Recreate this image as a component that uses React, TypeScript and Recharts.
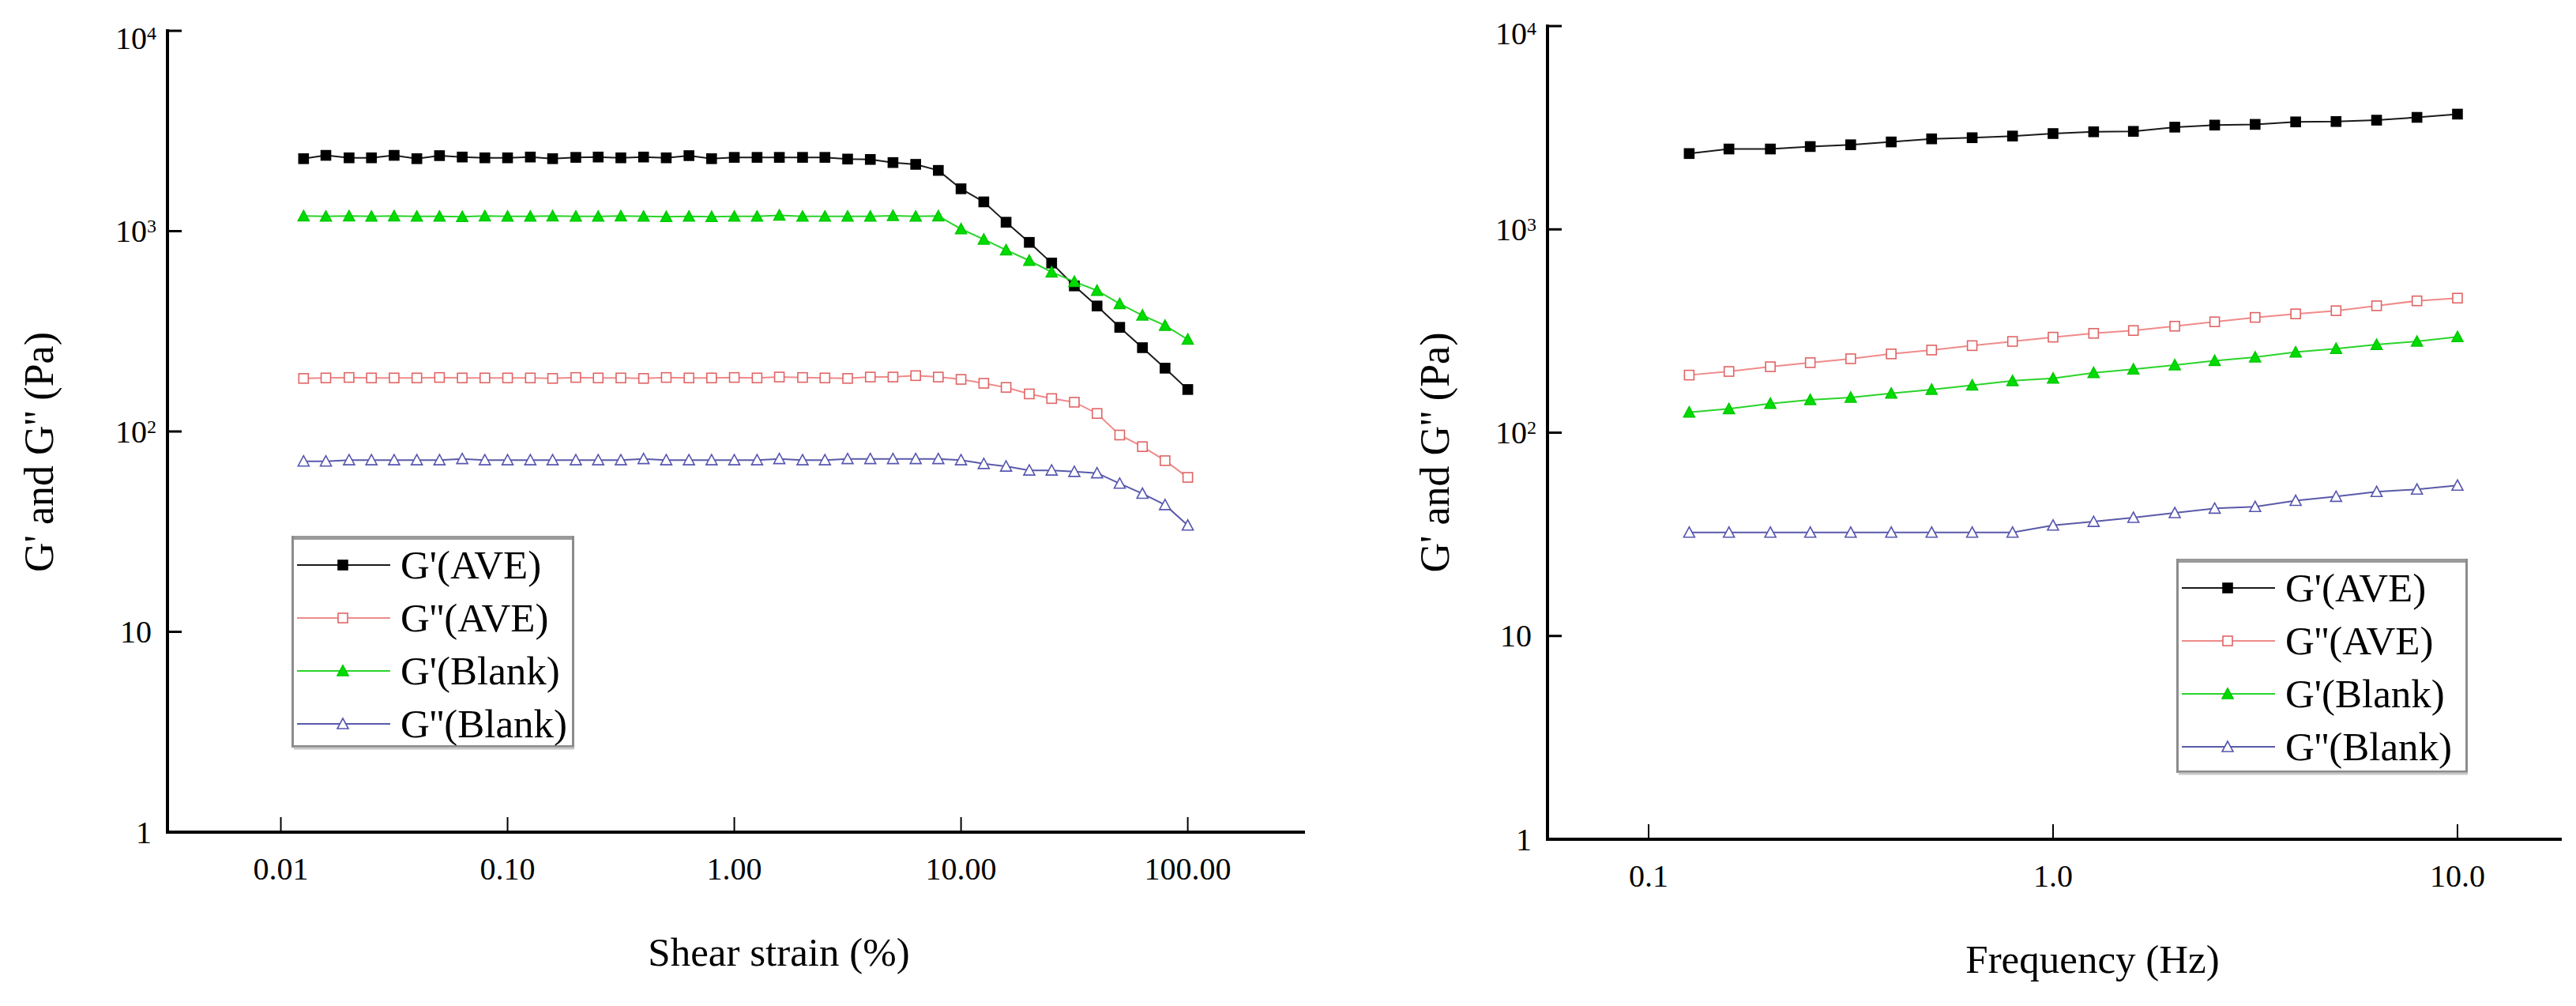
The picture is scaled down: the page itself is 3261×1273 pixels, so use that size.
import React from 'react';
import { LineChart, Line, XAxis, YAxis, Legend } from 'recharts';

// ---------- Data: amplitude sweep (left) ----------
const strain = [
  0.0126, 0.0158, 0.02, 0.0251, 0.0316, 0.0398, 0.0501, 0.0631, 0.0794, 0.1,
  0.126, 0.158, 0.2, 0.251, 0.316, 0.398, 0.501, 0.631, 0.794, 1,
  1.26, 1.58, 2, 2.51, 3.16, 3.98, 5.01, 6.31, 7.94, 10,
  12.6, 15.8, 20, 25.1, 31.6, 39.8, 50.1, 63.1, 79.4, 100,
];
const strainGpAve = [
  2300, 2390, 2323, 2323, 2390, 2300, 2382, 2344, 2323, 2323,
  2344, 2300, 2335, 2344, 2323, 2344, 2323, 2382, 2300, 2335,
  2335, 2335, 2335, 2335, 2290, 2280, 2200, 2155, 2010, 1627,
  1400, 1108, 879, 693, 533, 423, 331, 262, 207, 162,
];
const strainGppAve = [
  184, 185, 186, 185, 185, 185, 186, 185, 185, 185,
  185, 184, 186, 185, 185, 184, 186, 185, 185, 186,
  185, 187, 186, 185, 184, 187, 187, 190, 187, 182,
  174, 166, 154, 146, 140, 123, 96, 84, 71.5, 59,
];
const strainGpBlank = [
  1190, 1185, 1190, 1185, 1190, 1185, 1185, 1180, 1190, 1185,
  1185, 1190, 1185, 1185, 1190, 1185, 1180, 1185, 1180, 1185,
  1185, 1200, 1185, 1185, 1185, 1185, 1195, 1185, 1190, 1025,
  910, 805, 713, 624, 560, 505, 434, 380, 338, 288,
];
const strainGppBlank = [
  71, 71, 72, 72, 72, 72, 72, 73, 72, 72,
  72, 72, 72, 72, 72, 73, 72, 72, 72, 72,
  72, 73, 72, 72, 73, 73, 73, 73, 73, 72,
  69, 67, 64, 64, 63, 62, 55, 49, 43, 34,
];

// ---------- Data: frequency sweep (right) ----------
const freq = [
  0.126, 0.158, 0.2, 0.251, 0.316, 0.398, 0.501, 0.631, 0.794, 1,
  1.26, 1.58, 2, 2.51, 3.16, 3.98, 5.01, 6.31, 7.94, 10,
];
const freqGpAve = [
  2360, 2485, 2485, 2555, 2607, 2692, 2788, 2824, 2878, 2960,
  3020, 3034, 3183, 3258, 3284, 3378, 3392, 3445, 3556, 3689,
];
const freqGppAve = [
  192, 200, 211, 221, 231, 244, 255, 268, 281, 295,
  308, 318, 334, 351, 369, 384, 398, 421, 445, 459,
];
const freqGpBlank = [
  126, 131, 139, 145, 149, 156, 163, 171, 180, 185,
  197, 205, 215, 226, 235, 249, 259, 271, 281, 296,
];
const freqGppBlank = [
  32.3, 32.3, 32.3, 32.3, 32.3, 32.3, 32.3, 32.3, 32.3, 35,
  36.5, 38.2, 40.3, 42.4, 43.2, 46.3, 48.5, 51.2, 52.6, 55,
];

// ---------- Labels / ticks ----------
const seriesNames = ["G'(AVE)", "G''(AVE)", "G'(Blank)", "G''(Blank)"];
const strainTicks = [0.01, 0.1, 1, 10, 100];
const strainTickLabels = ['0.01', '0.10', '1.00', '10.00', '100.00'];
const freqTicks = [0.1, 1, 10];
const freqTickLabels = ['0.1', '1.0', '10.0'];
const modulusTicks = [1, 10, 100, 1000, 10000];
const strainTitle = 'Shear strain (%)';
const freqTitle = 'Frequency (Hz)';
const yTitle = "G' and G'' (Pa)";

const strainData = strain.map((x, i) => ({
  x, a: strainGpAve[i], b: strainGppAve[i], c: strainGpBlank[i], d: strainGppBlank[i],
}));
const freqData = freq.map((x, i) => ({
  x, a: freqGpAve[i], b: freqGppAve[i], c: freqGpBlank[i], d: freqGppBlank[i],
}));

const FONT = '"Liberation Serif", "Times New Roman", Times, serif';

const seriesStyles = [
  { key: 'a', line: '#1a1a1a', kind: 'square', fill: '#000000', stroke: '#000000' },
  { key: 'b', line: '#f08a8a', kind: 'square', fill: '#ffffff', stroke: '#e06464' },
  { key: 'c', line: '#2ad42a', kind: 'triangle', fill: '#00dc00', stroke: '#00c800' },
  { key: 'd', line: '#5a5aaa', kind: 'triangle', fill: '#ffffff', stroke: '#5656b0' },
];

function Marker({ cx, cy, kind, fill, stroke }: any) {
  if (cx == null || cy == null) return null;
  if (kind === 'square') {
    const s = 12;
    return <rect x={cx - s / 2} y={cy - s / 2} width={s} height={s} fill={fill} stroke={stroke} strokeWidth={1.6} />;
  }
  const w = 14;
  const h = 12;
  return (
    <polygon
      points={`${cx},${cy - h / 2 - 1} ${cx - w / 2},${cy + h / 2} ${cx + w / 2},${cy + h / 2}`}
      fill={fill}
      stroke={stroke}
      strokeWidth={1.6}
      strokeLinejoin="miter"
    />
  );
}

function XTick(props: any) {
  const { x, y, payload, ticks, labels } = props;
  const i = ticks.findIndex((t: number) => Math.abs(t - payload.value) / t < 1e-6);
  return (
    <g>
      <line x1={x} x2={x} y1={y} y2={y - 19} stroke="#000" strokeWidth={2} />
      <text x={x} y={y + 46} textAnchor="middle" dominantBaseline="central" fontSize={40} fontFamily={FONT} fill="#000">
        {i >= 0 ? labels[i] : ''}
      </text>
    </g>
  );
}

function YTick(props: any) {
  const { x, y, payload } = props;
  const v = payload.value;
  const exp = Math.round(Math.log10(v));
  // the top label sits slightly below its tick, as in the reference
  const ly = exp === 4 ? y + 9 : y;
  return (
    <g>
      <line x1={x} x2={x + 18} y1={y} y2={y} stroke="#000" strokeWidth={3} />
      {exp <= 1 ? (
        <text x={x - 20} y={ly} textAnchor="end" dominantBaseline="central" fontSize={40} fontFamily={FONT} fill="#000">
          {exp === 0 ? '1' : '10'}
        </text>
      ) : (
        <text x={x - 14} y={ly + 13.5} textAnchor="end" fontSize={40} fontFamily={FONT} fill="#000">
          10
          <tspan fontSize={24} dy={-12}>{String(exp)}</tspan>
        </text>
      )}
    </g>
  );
}

function LegendBox({ w, h }: { w: number; h: number }) {
  return (
    <svg width={w} height={h + 4} style={{ display: 'block', overflow: 'visible' }}>
      <rect x={1.5} y={1.5} width={w - 3} height={h - 3} fill="#ffffff" stroke="#8c8c8c" strokeWidth={3} />
      <line x1={3} x2={w - 3} y1={2.5} y2={2.5} stroke="#9a9a9a" strokeWidth={5} />
      <line x1={3} x2={w} y1={h + 1} y2={h + 1} stroke="#c8c8c8" strokeWidth={3} />
      {seriesStyles.map((s, i) => {
        const cy = 37 + 67 * i;
        return (
          <g key={s.key}>
            <line x1={7} x2={125} y1={cy} y2={cy} stroke={s.line} strokeWidth={2} />
            <Marker cx={65} cy={cy} kind={s.kind} fill={s.fill} stroke={s.stroke} />
            <text x={138} y={cy} dominantBaseline="central" fontSize={51} fontFamily={FONT} fill="#000">
              {seriesNames[i]}
            </text>
          </g>
        );
      })}
    </svg>
  );
}

function Panel(p: any) {
  const height = 1273;
  return (
    <div style={{ position: 'absolute', left: p.left, top: 0, width: p.width, height }}>
      <LineChart
        width={p.width}
        height={height}
        data={p.data}
        margin={{ top: p.plotTop, right: p.width - p.plotRight, bottom: 0, left: 0 }}
      >
        <XAxis
          dataKey="x"
          type="number"
          scale="log"
          domain={p.xDomain}
          allowDataOverflow
          ticks={p.xTicks}
          interval={0}
          tickSize={0}
          tickMargin={0}
          tickLine={false}
          height={height - p.plotBottom}
          axisLine={{ stroke: '#000', strokeWidth: 4, strokeLinecap: 'square' }}
          tick={(tp: any) => <XTick {...tp} ticks={p.xTicks} labels={p.xLabels} />}
          label={(lp: any) => {
            const vb = lp.viewBox || {};
            return (
              <text
                x={(vb.x ?? p.plotLeft) + (vb.width ?? 0) / 2 + p.xTitleDx}
                y={(vb.y ?? p.plotBottom) + 152}
                textAnchor="middle"
                dominantBaseline="central"
                fontSize={51}
                fontFamily={FONT}
                fill="#000"
              >
                {p.xTitle}
              </text>
            );
          }}
        />
        <YAxis
          type="number"
          scale="log"
          domain={[1, 10000]}
          allowDataOverflow
          ticks={modulusTicks}
          interval={0}
          width={p.plotLeft}
          tickSize={0}
          tickMargin={0}
          tickLine={false}
          axisLine={{ stroke: '#000', strokeWidth: 4, strokeLinecap: 'square' }}
          tick={(tp: any) => <YTick {...tp} />}
          label={(lp: any) => {
            const vb = lp.viewBox || {};
            const cx = (vb.x ?? 0) + p.yTitleX;
            const cy = (vb.y ?? p.plotTop) + (vb.height ?? 0) / 2 + p.yTitleDy;
            return (
              <text
                x={cx}
                y={cy}
                transform={`rotate(-90 ${cx} ${cy})`}
                textAnchor="middle"
                dominantBaseline="central"
                fontSize={52}
                fontFamily={FONT}
                fill="#000"
              >
                {yTitle}
              </text>
            );
          }}
        />
        {seriesStyles.map((s, i) => (
          <Line
            key={s.key}
            type="linear"
            dataKey={s.key}
            name={seriesNames[i]}
            stroke={s.line}
            strokeWidth={2}
            isAnimationActive={false}
            activeDot={false}
            dot={(dp: any) => (
              <Marker key={`${s.key}-${dp.index}`} cx={dp.cx} cy={dp.cy} kind={s.kind} fill={s.fill} stroke={s.stroke} />
            )}
          />
        ))}
        <Legend
          layout="vertical"
          align="center"
          verticalAlign="middle"
          wrapperStyle={{ left: p.legend.x, top: p.legend.y, width: p.legend.w, height: p.legend.h, margin: 0, padding: 0 }}
          content={() => <LegendBox w={p.legend.w} h={p.legend.h} />}
        />
      </LineChart>
    </div>
  );
}

export default function App() {
  return (
    <div style={{ position: 'absolute', left: 0, top: 0, width: 3261, height: 1273, background: '#fff', overflow: 'hidden' }}>
      <Panel
        left={0}
        width={1700}
        plotLeft={212}
        plotRight={1650}
        plotTop={39}
        plotBottom={1053}
        xDomain={[Math.pow(10, -2.5), Math.pow(10, 2.51)]}
        xTicks={strainTicks}
        xLabels={strainTickLabels}
        xTitle={strainTitle}
        xTitleDx={55}
        yTitleX={49}
        yTitleDy={26}
        data={strainData}
        legend={{ x: 369, y: 678, w: 358, h: 268 }}
      />
      <Panel
        left={1700}
        width={1561}
        plotLeft={259}
        plotRight={1541}
        plotTop={33}
        plotBottom={1062}
        xDomain={[Math.pow(10, -1.25), Math.pow(10, 1.254)]}
        xTicks={freqTicks}
        xLabels={freqTickLabels}
        xTitle={freqTitle}
        xTitleDx={49}
        yTitleX={116}
        yTitleDy={25}
        data={freqData}
        legend={{ x: 1055, y: 707, w: 369, h: 271 }}
      />
    </div>
  );
}
